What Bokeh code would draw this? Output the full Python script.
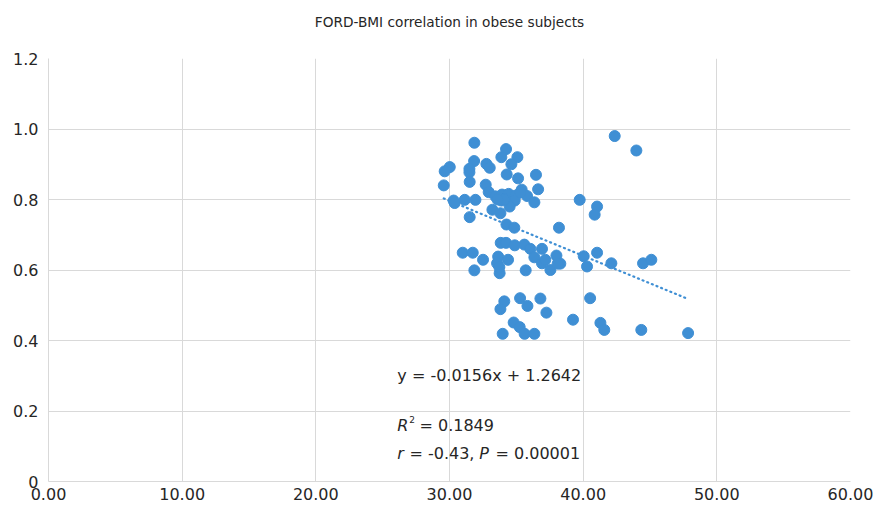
from bokeh.plotting import figure
from bokeh.models import FixedTicker
from bokeh.core.properties import value
from bokeh.embed import file_html
from bokeh.resources import INLINE

title = "FORD-BMI correlation in obese subjects"

bmi = [31.86, 34.23, 33.88, 35.08, 30.02, 29.64, 31.84, 31.49, 31.49, 32.76,
       33.01, 34.63, 34.28, 36.47, 35.13, 31.51, 29.57, 32.71, 36.63, 35.40,
       32.93, 33.43, 33.93, 34.43, 34.93, 33.88, 34.88, 35.80, 36.35, 34.50,
       30.31, 30.39, 31.14, 31.94, 31.51, 33.21, 33.81, 34.26, 34.85, 38.19,
       34.10, 35.30, 33.60,
       33.83, 34.23, 34.88, 35.60, 36.05, 36.92, 38.00, 38.29, 30.99, 31.74,
       32.51, 33.64, 33.56, 34.38, 36.35, 36.92, 37.17, 37.55, 38.09, 31.86,
       33.75, 33.73, 35.70, 34.10, 33.81, 35.28, 35.83, 36.80, 37.25, 34.80,
       35.25, 33.98, 35.62, 36.35,
       42.36, 43.98, 39.74, 41.04, 40.86, 40.04, 40.29, 41.04, 42.11, 44.48,
       45.10, 40.52, 39.24, 41.29, 41.58, 44.35, 47.85]
ford = [0.961, 0.943, 0.920, 0.920, 0.892, 0.880, 0.909, 0.887, 0.877, 0.901,
        0.890, 0.900, 0.871, 0.870, 0.860, 0.850, 0.840, 0.842, 0.829, 0.828,
        0.821, 0.809, 0.814, 0.816, 0.811, 0.797, 0.797, 0.810, 0.792, 0.780,
        0.797, 0.790, 0.799, 0.799, 0.750, 0.771, 0.761, 0.729, 0.720, 0.720,
        0.800, 0.820, 0.800,
        0.677, 0.677, 0.670, 0.672, 0.660, 0.660, 0.641, 0.618, 0.649, 0.649,
        0.629, 0.638, 0.619, 0.629, 0.636, 0.619, 0.629, 0.600, 0.618, 0.599,
        0.591, 0.608, 0.599, 0.511, 0.489, 0.520, 0.498, 0.519, 0.479, 0.451,
        0.438, 0.419, 0.419, 0.419,
        0.980, 0.939, 0.799, 0.780, 0.757, 0.639, 0.610, 0.649, 0.619, 0.619,
        0.629, 0.520, 0.459, 0.450, 0.430, 0.430, 0.421]

slope = -0.0156
intercept = 1.2642

x_ticks = [0, 10, 20, 30, 40, 50, 60]
x_tick_labels = ["0.00", "10.00", "20.00", "30.00", "40.00", "50.00", "60.00"]
y_ticks = [0, 0.2, 0.4, 0.6, 0.8, 1.0, 1.2]
y_tick_labels = ["0", "0.2", "0.4", "0.6", "0.8", "1.0", "1.2"]

eq_text = "y = -0.0156x + 1.2642"
r2_value = "\u00a0= 0.1849"
r_value = "\u00a0= -0.43,"
p_value = "\u00a0= 0.00001"

FONT = "DejaVu Sans"
BLUE = "#3f8fd4"
GRID = "#d9d9d9"
TXT = "#262626"

p = figure(width=882, height=506, output_backend="svg", toolbar_location=None,
           x_range=(0, 60), y_range=(0, 1.2), title=title + "\n\u00a0",
           min_border_left=48, min_border_right=32, min_border_top=58,
           min_border_bottom=25)
p.outline_line_color = None
p.background_fill_color = "white"
p.border_fill_color = "white"

p.title.align = "center"
p.title.vertical_align = "top"
p.title.text_font = FONT
p.title.text_font_size = "13.7px"
p.title.text_font_style = "normal"
p.title.text_color = TXT
p.title.standoff = 22

p.xaxis.ticker = FixedTicker(ticks=x_ticks)
p.yaxis.ticker = FixedTicker(ticks=y_ticks)
p.xaxis.major_label_overrides = dict(zip(x_ticks, x_tick_labels))
p.yaxis.major_label_overrides = dict(zip(y_ticks, y_tick_labels))
for ax in (p.xaxis, p.yaxis):
    ax.major_label_text_font = FONT
    ax.major_label_text_font_size = "16px"
    ax.major_label_text_color = TXT
    ax.axis_line_color = GRID
    ax.major_tick_line_color = None
    ax.minor_tick_line_color = None
    ax.major_tick_out = 0
    ax.major_tick_in = 0
    ax.minor_tick_out = 0
    ax.minor_tick_in = 0
p.xaxis.major_label_standoff = 6
p.yaxis.major_label_standoff = 10

p.xgrid.grid_line_color = GRID
p.ygrid.grid_line_color = GRID

# trendline
x0, x1 = min(bmi), max(bmi)
p.line([x0, x1], [slope * x0 + intercept, slope * x1 + intercept],
       line_color=BLUE, line_width=2.2, line_dash="1 4", line_cap="round")

p.scatter(bmi, ford, size=11, fill_color=BLUE, line_color=BLUE)

# annotations
tx = 26.1
common = dict(text_font=value(FONT), text_font_size="16px", text_color=TXT,
              text_baseline="middle", text_align="left")
p.text(x=[tx], y=[0.30], text=[eq_text], **common)
p.text(x=[tx], y=[0.159], text=["R"], text_font_style="italic", **common)
p.text(x=[tx], y=[0.159], text=["2"], x_offset=12, y_offset=-6,
       text_font=value(FONT), text_font_size="9px", text_color=TXT,
       text_baseline="middle", text_align="left")
p.text(x=[tx], y=[0.159], text=[r2_value], x_offset=17, **common)
p.text(x=[tx], y=[0.079], text=["r"], text_font_style="italic", **common)
p.text(x=[tx], y=[0.079], text=[r_value], x_offset=7, **common)
p.text(x=[tx], y=[0.079], text=["P"], x_offset=82, text_font_style="italic", **common)
p.text(x=[tx], y=[0.079], text=[p_value], x_offset=93, **common)

open("out.html", "w").write(file_html(p, INLINE))
